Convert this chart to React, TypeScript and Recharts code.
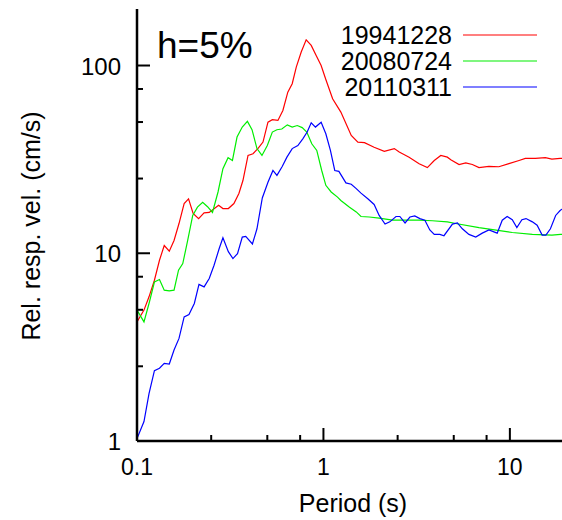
import { Line, LineChart, XAxis, YAxis } from "recharts";

// periods (s) and relative response velocity (cm/s)
const redPeriods = [0.1, 0.109, 0.116, 0.124, 0.132, 0.14, 0.149, 0.158, 0.168, 0.179, 0.189, 0.2, 0.214, 0.229, 0.244, 0.256, 0.274, 0.289, 0.309, 0.331, 0.352, 0.37, 0.394, 0.419, 0.445, 0.474, 0.504, 0.532, 0.57, 0.606, 0.644, 0.68, 0.715, 0.76, 0.808, 0.86, 0.914, 0.972, 1.03, 1.12, 1.24, 1.41, 1.53, 1.66, 1.87, 2.12, 2.4, 2.55, 2.88, 3.26, 3.61, 3.93, 4.26, 4.62, 4.82, 5.34, 5.8, 6.29, 6.83, 7.72, 8.73, 9.88, 11.2, 12.1, 13.7, 15.5, 16.8, 18.6, 20]
const redValues = [4.31, 4.98, 5.86, 7.18, 9.18, 11.0, 10.25, 11.7, 14.4, 18.4, 19.5, 16.3, 15.3, 16.4, 16.5, 17.1, 18.0, 17.3, 17.3, 18.4, 20.8, 24.4, 33.2, 33.9, 36.1, 39.1, 49.9, 51.5, 51, 57.6, 72.1, 80, 98, 118, 137, 128, 113, 100, 84.2, 66.5, 56.5, 42.4, 39.1, 38.8, 36.7, 34.9, 36.1, 34.6, 32.5, 30.0, 28.6, 31.2, 33.2, 32.5, 31.5, 29.7, 30.3, 29.7, 28.6, 29.0, 28.9, 30.0, 31.2, 32.0, 32.0, 32.3, 31.7, 32.0, 32.0]

const greenPeriods = [0.1, 0.109, 0.116, 0.124, 0.132, 0.14, 0.149, 0.158, 0.167, 0.176, 0.187, 0.199, 0.211, 0.225, 0.239, 0.254, 0.272, 0.289, 0.308, 0.325, 0.344, 0.367, 0.391, 0.414, 0.44, 0.468, 0.5, 0.532, 0.563, 0.598, 0.64, 0.68, 0.724, 0.769, 0.814, 0.866, 0.921, 0.979, 1.03, 1.1, 1.19, 1.24, 1.38, 1.5, 1.59, 1.76, 1.99, 2.35, 3.26, 3.84, 4.62, 5.12, 6.83, 10.3, 13.2, 16.8, 18.7, 20]
const greenValues = [4.98, 4.31, 5.4, 7.03, 7.25, 6.36, 6.3, 6.36, 8.12, 8.81, 11.7, 15.9, 17.6, 18.7, 17.7, 16.5, 21.2, 28.2, 32.3, 31.2, 41.6, 47, 50.4, 45.5, 36.1, 33.2, 37.5, 44.2, 45.5, 45.9, 48.3, 47, 47.9, 46.7, 44.2, 38.3, 35.3, 27.6, 23, 21.2, 19.9, 19.1, 17.6, 16.6, 15.7, 15.6, 15.4, 15.0, 15.0, 14.9, 14.7, 14.4, 13.7, 12.9, 12.6, 12.5, 12.6, 12.6]

const bluePeriods = [0.1, 0.109, 0.116, 0.124, 0.132, 0.14, 0.149, 0.158, 0.168, 0.179, 0.19, 0.203, 0.215, 0.229, 0.244, 0.259, 0.276, 0.289, 0.309, 0.327, 0.346, 0.367, 0.383, 0.416, 0.44, 0.47, 0.504, 0.536, 0.563, 0.601, 0.637, 0.68, 0.729, 0.775, 0.818, 0.86, 0.906, 0.972, 1.03, 1.09, 1.15, 1.21, 1.32, 1.41, 1.5, 1.59, 1.73, 1.87, 1.99, 2.14, 2.27, 2.45, 2.57, 2.74, 2.91, 3.09, 3.29, 3.5, 3.72, 3.93, 4.21, 4.43, 4.92, 5.23, 5.56, 6.03, 6.56, 7.11, 7.72, 8.55, 9.1, 9.67, 10.3, 10.9, 11.6, 12.2, 13.2, 14.0, 14.9, 15.6, 16.5, 17.6, 18.6, 20]
const blueValues = [1.03, 1.27, 1.79, 2.37, 2.44, 2.59, 2.57, 3.05, 3.52, 4.58, 4.72, 5.4, 6.82, 6.62, 7.34, 8.63, 10.6, 12.1, 10.2, 9.37, 9.96, 12.2, 12.3, 11.2, 13.5, 19.7, 23.9, 27.6, 26, 29, 32.5, 36.1, 37.5, 40.7, 44.2, 49.5, 47, 49.9, 43.3, 35.3, 27.6, 27.3, 23.7, 23.3, 22.1, 20.9, 19.5, 18.2, 15.9, 14.3, 14.7, 15.7, 15.7, 14.5, 15.6, 15.8, 15.3, 15.0, 13.3, 12.6, 12.6, 12.4, 14.3, 14.5, 13.5, 12.6, 12.2, 12.8, 13.3, 12.8, 15.0, 15.7, 15.1, 13.7, 15.1, 15.3, 14.7, 14.1, 12.5, 12.5, 13.5, 15.9, 16.9, 17.8]

const seriesNames = ["19941228", "20080724", "20110311"]
const seriesColors = ["#ff0000", "#00ee00", "#0000ff"]

const xTicks = [0.1, 0.25, 0.5, 0.75, 1, 2.5, 5, 7.5, 10]
const yTicks = [1, 2.5, 5, 7.5, 10, 25, 50, 75, 100]

const FONT = '"Liberation Sans", Arial, Helvetica, sans-serif'

const toRows = (periods: number[], values: number[]) =>
  periods.map((t, i) => ({ t, v: values[i] }))

const isMajor = (v: number) => {
  const l = Math.log10(v)
  return Math.abs(l - Math.round(l)) < 1e-6
}

const MAJOR = 13
const MINOR = 6

function BottomTick({ x, y, payload }: any) {
  const major = isMajor(payload.value)
  return (
    <g>
      <line x1={x} x2={x} y1={y} y2={y - (major ? MAJOR : MINOR)} stroke="#000" strokeWidth={2} />
      {major && (
        <text x={x} y={y + 34} textAnchor="middle" fontSize={23} fontFamily={FONT} fill="#000">
          {String(payload.value)}
        </text>
      )}
    </g>
  )
}

function TopTick({ x, y, payload }: any) {
  const major = isMajor(payload.value)
  return <line x1={x} x2={x} y1={y} y2={y + (major ? MAJOR : MINOR)} stroke="#000" strokeWidth={2} />
}

function LeftTick({ x, y, payload }: any) {
  const major = isMajor(payload.value)
  return (
    <g>
      <line x1={x} x2={x + (major ? MAJOR : MINOR)} y1={y} y2={y} stroke="#000" strokeWidth={2} />
      {major && (
        <text x={x - 16} y={y + 9} textAnchor="end" fontSize={24} fontFamily={FONT} fill="#000">
          {String(payload.value)}
        </text>
      )}
    </g>
  )
}

function RightTick({ x, y, payload }: any) {
  const major = isMajor(payload.value)
  return <line x1={x} x2={x - (major ? MAJOR : MINOR)} y1={y} y2={y} stroke="#000" strokeWidth={2} />
}

function LegendBox() {
  return (
    <div style={{ position: "absolute", left: 320, top: 22, fontFamily: FONT, fontSize: 25, color: "#000" }}>
      {seriesNames.map((name, i) => (
        <div key={name} style={{ display: "flex", alignItems: "center", height: 26 }}>
          <span style={{ width: 132, textAlign: "right", lineHeight: "26px" }}>{name}</span>
          <svg width={74} height={4} style={{ marginLeft: 11 }}>
            <line x1={0} x2={74} y1={2} y2={2} stroke={seriesColors[i]} strokeWidth={1.2} />
          </svg>
        </div>
      ))}
    </div>
  )
}

const axisLine = { stroke: "#000", strokeWidth: 2.5 }

export default function App() {
  return (
    <div style={{ position: "absolute", left: 0, top: 0, width: 562, height: 520, overflow: "hidden", background: "#fff" }}>
      <LineChart width={600} height={520} margin={{ top: 9, right: 34, bottom: 0, left: 0 }}>
        <XAxis
          type="number"
          dataKey="t"
          scale="log"
          domain={[0.1, 20]}
          allowDataOverflow
          ticks={xTicks}
          interval={0}
          height={79}
          tickSize={0}
          tickMargin={0}
          tickLine={false}
          axisLine={axisLine}
          tick={<BottomTick />}
        />
        <XAxis
          xAxisId="top"
          orientation="top"
          type="number"
          dataKey="t"
          scale="log"
          domain={[0.1, 20]}
          allowDataOverflow
          ticks={xTicks}
          interval={0}
          height={0}
          tickSize={0}
          tickMargin={0}
          tickLine={false}
          axisLine={axisLine}
          tick={<TopTick />}
        />
        <YAxis
          type="number"
          scale="log"
          domain={[1, 200]}
          allowDataOverflow
          ticks={yTicks}
          interval={0}
          width={137}
          tickSize={0}
          tickMargin={0}
          tickLine={false}
          axisLine={axisLine}
          tick={<LeftTick />}
        />
        <YAxis
          yAxisId="right"
          orientation="right"
          type="number"
          scale="log"
          domain={[1, 200]}
          allowDataOverflow
          ticks={yTicks}
          interval={0}
          width={0}
          tickSize={0}
          tickMargin={0}
          tickLine={false}
          axisLine={axisLine}
          tick={<RightTick />}
        />

        <Line data={toRows(redPeriods, redValues)} dataKey="v" name={seriesNames[0]} stroke={seriesColors[0]} strokeWidth={1.2} dot={false} isAnimationActive={false} />
        <Line data={toRows(greenPeriods, greenValues)} dataKey="v" name={seriesNames[1]} stroke={seriesColors[1]} strokeWidth={1.2} dot={false} isAnimationActive={false} />
        <Line data={toRows(bluePeriods, blueValues)} dataKey="v" name={seriesNames[2]} stroke={seriesColors[2]} strokeWidth={1.2} dot={false} isAnimationActive={false} />

        <text x={157} y={58} fontSize={37} fontFamily={FONT} fill="#000">h=5%</text>
        <text x={353} y={512} textAnchor="middle" fontSize={25} fontFamily={FONT} fill="#000">Period (s)</text>
        <text
          x={40}
          y={226}
          transform="rotate(-90 40 226)"
          textAnchor="middle"
          fontSize={25}
          fontFamily={FONT}
          fill="#000"
        >
          Rel. resp. vel. (cm/s)
        </text>
      </LineChart>
      <LegendBox />
    </div>
  )
}
